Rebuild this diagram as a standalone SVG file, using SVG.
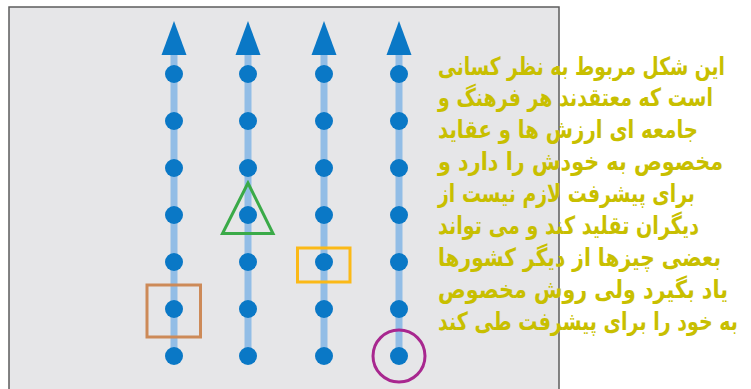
<svg xmlns="http://www.w3.org/2000/svg" width="751" height="389" viewBox="0 0 751 389">
<style>
.bg{fill:#e6e6e8;stroke:#5c5c5c;stroke-width:1.5}
.track{stroke:#92bde6;stroke-width:7}
.dot{fill:#0a78c6}
.arrow{fill:#0a78c6}
.txt{font-family:"DejaVu Sans",sans-serif;font-weight:bold;font-size:20px;fill:#c8bf00}
.mark{fill:none;stroke-width:3}
</style>
<defs>
<g id="column">
<line class="track" x1="0" y1="52" x2="0" y2="356"/>
<polygon class="arrow" points="0,21 -12.5,55 12.5,55"/>
<circle class="dot" cx="0" cy="74" r="9"/>
<circle class="dot" cx="0" cy="121" r="9"/>
<circle class="dot" cx="0" cy="168" r="9"/>
<circle class="dot" cx="0" cy="215" r="9"/>
<circle class="dot" cx="0" cy="262" r="9"/>
<circle class="dot" cx="0" cy="309" r="9"/>
<circle class="dot" cx="0" cy="356" r="9"/>
</g>
</defs>
<rect id="panel" class="bg" x="9" y="7" width="550" height="390"/>
<g id="connectors">
<use href="#column" x="174"/>
<use href="#column" x="248"/>
<use href="#column" x="324"/>
<use href="#column" x="399"/>
</g>
<g id="triangle"><polygon class="mark" stroke="#3aaa48" points="248,183 222.5,233.5 273,233.5"/></g>
<g id="square"><rect class="mark" stroke="#cd8a58" x="147" y="285" width="53.5" height="52"/></g>
<g id="yellow-box"><rect class="mark" stroke="#fbb917" x="297.5" y="248" width="52.5" height="34"/></g>
<g id="circle"><circle class="mark" stroke="#a8278f" cx="399" cy="356" r="26"/></g>
<g id="caption" class="txt">
<text transform="translate(438,75) scale(0.93,1.25)" textLength="308.6" lengthAdjust="spacingAndGlyphs">این شکل مربوط به نظر کسانی</text>
<text transform="translate(438,106) scale(0.93,1.25)" textLength="295.7" lengthAdjust="spacingAndGlyphs">است که معتقدند هر فرهنگ و</text>
<text transform="translate(438,138) scale(0.93,1.25)" textLength="279.6" lengthAdjust="spacingAndGlyphs">جامعه ای ارزش ها و عقاید</text>
<text transform="translate(438,170) scale(0.93,1.25)" textLength="306.5" lengthAdjust="spacingAndGlyphs">مخصوص به خودش را دارد و</text>
<text transform="translate(438,202) scale(0.93,1.25)" textLength="276.3" lengthAdjust="spacingAndGlyphs">برای پیشرفت لازم نیست از</text>
<text transform="translate(438,234) scale(0.93,1.25)" textLength="280.6" lengthAdjust="spacingAndGlyphs">دیگران تقلید کند و می تواند</text>
<text transform="translate(438,266) scale(0.93,1.25)" textLength="304.3" lengthAdjust="spacingAndGlyphs">بعضی چیزها از دیگر کشورها</text>
<text transform="translate(438,298) scale(0.93,1.25)" textLength="311.8" lengthAdjust="spacingAndGlyphs">یاد بگیرد ولی روش مخصوص</text>
<text transform="translate(438,330) scale(0.93,1.25)" textLength="322.6" lengthAdjust="spacingAndGlyphs">به خود را برای پیشرفت طی کند</text>
</g>
</svg>
